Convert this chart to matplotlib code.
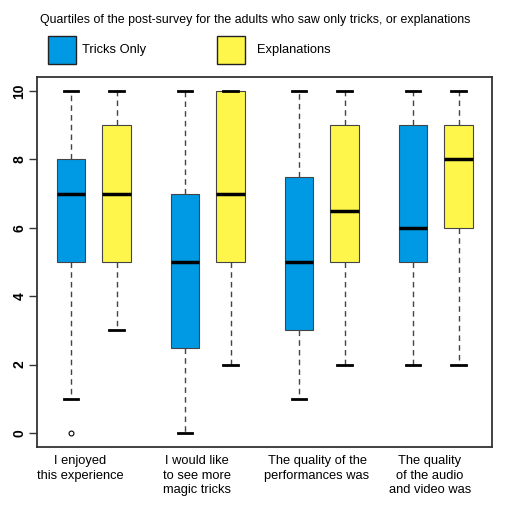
import matplotlib
matplotlib.use("Agg")
import matplotlib.pyplot as plt

plt.rcParams['font.family'] = ['Liberation Sans', 'DejaVu Sans']

categories = ["I enjoyed\nthis experience", "I would like\nto see more\nmagic tricks",
              "The quality of the\nperformances was", "The quality\nof the audio\nand video was"]
series = ["Tricks Only", "Explanations"]
# (whislo, q1, med, q3, whishi, fliers)
tricks = [(1, 5, 7, 8, 10, [0]), (0, 2.5, 5, 7, 10, []), (1, 3, 5, 7.5, 10, []), (2, 5, 6, 9, 10, [])]
explan = [(3, 5, 7, 9, 10, []), (2, 5, 7, 10, 10, []), (2, 5, 6.5, 9, 10, []), (2, 6, 8, 9, 10, [])]
colors = ["#009ae4", "#fff64c"]
yticks = [0, 2, 4, 6, 8, 10]

fig = plt.figure(figsize=(5.05, 5.09), dpi=100)
W, H = 505, 509
ax = fig.add_axes([37 / W, 1 - 447 / H, (492 - 37) / W, (447 - 77) / H])

def stats(v):
    return dict(whislo=v[0], q1=v[1], med=v[2], q3=v[3], whishi=v[4], fliers=v[5])

pos_t = [1.0, 3.0, 5.0, 7.0]
pos_e = [p + 0.8 for p in pos_t]
common = dict(widths=0.5, patch_artist=True, showfliers=True,
              boxprops=dict(edgecolor="#444444", linewidth=0.8),
              medianprops=dict(color="black", linewidth=2.5),
              whiskerprops=dict(color="#444444", linestyle=(0, (4, 3)), linewidth=1.0),
              capprops=dict(color="black", linewidth=2.0),
              flierprops=dict(marker="o", markersize=3.5, markerfacecolor="none",
                              markeredgecolor="black", markeredgewidth=0.8),
              capwidths=0.25)
b1 = ax.bxp([stats(v) for v in tricks], positions=pos_t, **common)
b2 = ax.bxp([stats(v) for v in explan], positions=pos_e, **common)
for p in b1['boxes']:
    p.set_facecolor(colors[0])
for p in b2['boxes']:
    p.set_facecolor(colors[1])

ppu = (185 - 71) / 2.0
ax.set_xlim(1.0 - (71 - 37) / ppu, 1.0 + (492 - 71) / ppu)
ppy = (433 - 91) / 10.0
ax.set_ylim(0 - (447 - 433) / ppy, 10 + (91 - 77) / ppy)

ax.set_xticks([])
ax.set_yticks(yticks)
ax.set_yticklabels([str(t) for t in yticks], rotation=90, va="center", fontsize=10, fontweight="bold")
ax.tick_params(axis="y", length=6, width=1.0, color="#333333", pad=1.5)
for s in ax.spines.values():
    s.set_color("#333333")
    s.set_linewidth(1.3)

label_px = [80, 197, 317, 430]
for lab, px in zip(categories, label_px):
    fig.text(px / W, 1 - 455 / H, lab, ha="center", va="top", fontsize=9.3, linespacing=1.3)

fig.text(40 / W, 1 - 20 / H, "Quartiles of the post-survey for the adults who saw only tricks, or explanations",
         ha="left", va="center", fontsize=8.9)

from matplotlib.patches import Rectangle
for (x0, tx, name, c) in [(48, 82, series[0], colors[0]), (217, 257, series[1], colors[1])]:
    fig.patches.append(Rectangle((x0 / W, 1 - 64 / H), 28 / W, 28 / H, transform=fig.transFigure,
                                 facecolor=c, edgecolor="#222222", linewidth=1.0))
    fig.text(tx / W, 1 - 50 / H, name, ha="left", va="center", fontsize=9.3)

fig.savefig("out.png", dpi=100)
